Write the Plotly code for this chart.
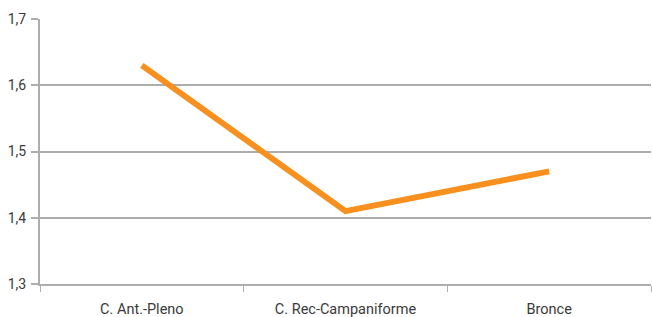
import plotly.graph_objects as go

categories = ["C. Ant.-Pleno", "C. Rec-Campaniforme", "Bronce"]
values = [1.63, 1.41, 1.47]
y_ticks = [1.3, 1.4, 1.5, 1.6, 1.7]
y_tick_labels = ["1,3", "1,4", "1,5", "1,6", "1,7"]

fig = go.Figure(go.Scatter(
    x=categories, y=values, mode="lines",
    line=dict(color="#F7901E", width=6),
))

fig.update_layout(
    width=652, height=317,
    margin=dict(l=40, r=1, t=19, b=33),
    paper_bgcolor="white", plot_bgcolor="white",
    showlegend=False,
    font=dict(family="Roboto, DejaVu Sans, sans-serif", size=14, color="#3a3a3a"),
)
fig.update_xaxes(
    type="category", range=[-0.5, 2.5], automargin=False,
    showline=True, linecolor="#adadad", linewidth=2,
    ticks="outside", tickson="boundaries", ticklen=6, tickcolor="#adadad", tickwidth=1,
    showgrid=False, tickfont=dict(size=14.5, color="#3a3a3a"),
    ticklabelstandoff=11,
)
fig.update_yaxes(
    range=[1.3, 1.7], tickvals=y_ticks, ticktext=y_tick_labels, automargin=False,
    showline=True, linecolor="#adadad", linewidth=2,
    ticks="outside", ticklen=7, tickcolor="#adadad", tickwidth=2,
    showgrid=True, gridcolor="#adadad", gridwidth=2,
    zeroline=False, tickfont=dict(size=14, color="#3a3a3a"),
    ticklabelstandoff=2,
)
fig.write_html("out.html", config={"displayModeBar": False},
               post_script="document.body.style.margin='0';")
